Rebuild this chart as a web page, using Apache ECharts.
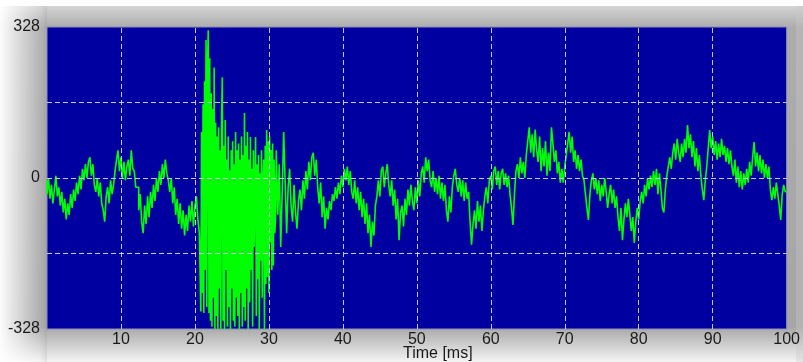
<!DOCTYPE html>
<html>
<head>
<meta charset="utf-8">
<script src="https://cdn.jsdelivr.net/npm/echarts@6/dist/echarts.min.js"></script>
<style>html,body{margin:0;padding:0;background:#fff}#c{width:803px;height:362px}</style>
</head>
<body>
<div id="c"></div>
<script>
// segment A: 0.0 .. 20.6 ms, step 0.2 ms
var segAStart = 0.0, segAStep = 0.2;
var segA = [-5,-35,0,-45,-15,-55,-25,5,-40,-20,
-60,-30,-75,-45,-90,-55,-80,-35,-65,-25,
-50,-10,-35,5,-25,20,-5,30,0,35,
45,5,30,-15,-30,0,-40,-10,-55,-70,
-95,-40,-20,-55,-5,-35,-15,15,40,60,
15,45,0,35,-5,25,40,5,60,20,
15,-20,-20,-70,-35,-95,-120,-60,-100,-40,
-85,-30,-65,-15,-50,0,-30,15,-15,30,
0,40,10,-5,-30,0,-55,-20,-80,-45,
-100,-55,-110,-70,-125,-80,-115,-60,-95,-50,
-105,-60,-40,-90];
// segment B (burst): 20.8 .. 30.9 ms, step 0.1 ms
var segBStart = 20.8, segBStep = 0.1;
var segB = [-120,-290,100,-250,160,-293,210,-200,300,-280,
250,321,-293,260,-310,184,-323,150,-260,240,
-328,120,-300,90,-328,110,-240,60,-328,130,
219,-310,70,-328,126,-200,40,-323,90,-280,
17,-328,60,-240,80,-310,30,-323,100,-260,
60,-300,75,-328,40,-250,90,-323,50,-280,
141,-310,70,-240,100,-328,40,-270,89,-200,
20,-323,60,-150,-20,89,-300,30,-220,50,
-328,10,-180,60,-260,-10,40,-328,70,-230,
104,-215,80,-250,90,-140,61,-200,75,-190,
40,-120];
// segment C: 31.0 .. 60.0 ms, step 0.2 ms
var segCStart = 31.0, segCStep = 0.2;
var segC = [-90,60,-80,30,-150,-30,100,-10,-120,-20,
20,-60,-95,-15,-75,-110,-50,-25,-70,-5,
-45,15,-25,35,-5,45,55,5,40,-20,
-55,-10,-85,-40,-110,-65,-90,-50,-70,-35,
-50,-20,-45,-10,-35,5,-20,20,-5,25,
-15,15,-30,-45,-5,-55,-20,-70,-30,-85,
-45,-100,-55,-120,-80,-150,-95,-125,-60,-40,
-5,-40,15,25,-20,10,30,-15,-40,-5,
-60,-25,-90,-45,-135,-75,-60,-105,-45,-80,
-25,-60,-15,-50,-70,-20,-55,-5,-40,10,
25,-10,45,15,40,-5,-20,15,-30,0,
-35,5,-45,-10,-50,-15,-70,-95,-40,-75,
-20,5,20,-15,-30,0,-40,-5,-50,-10,
-45,-30,-95,-145,-100,-70,-110,-50,-95,-60,
-115,-70,-40,-20,-55,-5];
// segment D: 60.2 .. 100.0 ms, step 0.2 ms
var segDStart = 60.2, segDStep = 0.2;
var segD = [5,-25,15,25,-15,15,-25,10,20,-15,
10,-20,5,-35,-65,-102,-35,15,30,0,
45,10,35,0,50,80,110,55,95,45,
105,60,35,90,15,65,25,80,5,55,
15,110,75,35,60,10,35,-10,20,-10,
25,50,75,100,55,90,35,60,20,50,
15,40,5,-5,-35,-65,-91,-35,-5,10,
-25,0,-35,-5,-50,-15,-40,0,-30,-65,
-35,-15,-55,-25,-65,-40,-85,-115,-65,-135,
-90,-55,-85,-45,-80,-115,-85,-141,-95,-65,
-90,-50,-30,-55,-15,-40,0,-25,5,-20,
15,-15,20,-35,10,-25,-65,-75,-25,5,
25,45,20,55,75,40,85,55,35,75,
45,85,55,115,65,95,45,80,25,65,
15,50,5,-25,-48,-5,25,65,104,65,
90,50,80,40,75,45,85,50,70,35,
65,30,60,25,5,40,-10,25,-20,15,
-25,10,-15,20,-10,35,5,45,78,25,
55,15,50,10,40,0,30,0,25,-25,
-48,-20,-45,-10,-35,-60,-91,-35,-15,-30];

var xTicks = [10,20,30,40,50,60,70,80,90];
var yTicks = [-164,0,164];
var yLabelTicks = [-328,0,328];

function seg(start, step, arr){
  var out = [];
  for (var i=0;i<arr.length;i++) out.push([+(start + i*step).toFixed(2), arr[i]]);
  return out;
}
var points = [].concat(seg(segAStart,segAStep,segA), seg(segBStart,segBStep,segB),
  seg(segCStart,segCStep,segC), seg(segDStart,segDStep,segD));

var chart = echarts.init(document.getElementById('c'), null, {renderer:'canvas'});
var W = 803, H = 362;
var gridMarks = xTicks.map(function(v){return {xAxis:v};}).concat(yTicks.map(function(v){return {yAxis:v};}));
chart.setOption({
  backgroundColor:'#ffffff',
  animation:false,
  graphic:[
    {type:'rect', z:-100, silent:true, shape:{x:0,y:6,width:W,height:H-6},
     style:{fill:new echarts.graphic.LinearGradient(0,0,0,1,[
       {offset:0,color:'#d4d4d4'},{offset:0.06,color:'#acacac'},
       {offset:0.9,color:'#a6a6a6'},{offset:1,color:'#f4f4f4'}])}},
    {type:'rect', z:-99, silent:true, shape:{x:0,y:6,width:47,height:H-6},
     style:{fill:new echarts.graphic.LinearGradient(0,0,1,0,[
       {offset:0,color:'rgba(255,255,255,0.97)'},{offset:0.85,color:'rgba(255,255,255,0.1)'},{offset:1,color:'rgba(120,120,120,0.15)'}])}},
    {type:'rect', z:-99, silent:true, shape:{x:796,y:6,width:7,height:H-6},
     style:{fill:'rgba(200,200,200,0.35)'}},
    {type:'text', z:10, silent:true, left:403, top:346,
     style:{text:'Time [ms]', fill:'#1a1a1a', font:'16px "Liberation Sans", Arial, sans-serif'}}
  ],
  grid:{left:47, top:27, right:7, bottom:33, show:true, backgroundColor:'#0000a0', borderWidth:1, borderColor:'#9090b8'},
  xAxis:{type:'value', min:0, max:100, interval:10,
    axisLine:{show:false}, axisTick:{show:false}, splitLine:{show:false},
    axisLabel:{margin:3, color:'#1a1a1a', fontSize:16, fontFamily:'Liberation Sans, Arial, sans-serif',
      formatter:function(v){return v===0?'':String(v);}}},
  yAxis:{type:'value', min:-328, max:328, interval:164,
    axisLine:{show:false}, axisTick:{show:false}, splitLine:{show:false},
    axisLabel:{margin:7, color:'#1a1a1a', fontSize:16, fontFamily:'Liberation Sans, Arial, sans-serif',
      padding:[6,0,0,0],
      formatter:function(v){return yLabelTicks.indexOf(v)>=0?String(v):'';}}},
  series:[
    {type:'line', data:[], z:1, silent:true,
     markLine:{silent:true, symbol:'none', label:{show:false}, animation:false,
       lineStyle:{color:'#c8c8dc', width:1, type:[5,3]}, emphasis:{disabled:true},
       data:gridMarks}},
    {type:'line', data:points, z:2, showSymbol:false, symbol:'none', silent:true, sampling:null,
     step:'start', lineStyle:{color:'#00ff00', width:1.6}, clip:true}
  ]
});
</script>
</body>
</html>
